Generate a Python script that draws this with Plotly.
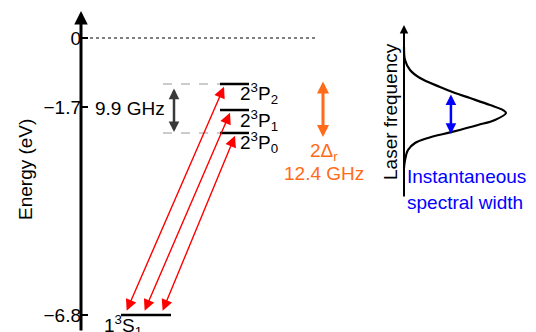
import plotly.graph_objects as go

# ---------------- data ----------------
# energy axis ticks (eV)
tick_vals = [0, -1.7, -6.8]
tick_text = ["0", "\u22121.7", "\u22126.8"]

# excited levels (schematic energies, eV) and ground state
level_names = ["2<sup>3</sup>P<sub>2</sub>", "2<sup>3</sup>P<sub>1</sub>", "2<sup>3</sup>P<sub>0</sub>"]
level_E = [-1.129, -1.768, -2.332]
ground_name = "1<sup>3</sup>S<sub>1</sub>"
ground_E = -6.8

# splitting annotations
fine_label = "9.9 GHz"
recoil_labels = ["2\u0394<sub>r</sub>", "12.4 GHz"]
recoil_span = [-1.031, -2.430]

# laser spectral profile (relative frequency, relative intensity)
laser_f = [3.63, 2.91, 2.36, 1.92, 1.43, 1.10, 0.82, 0.44, 0.16, 0.0,
           -0.38, -0.66, -1.04, -1.37, -1.65, -2.03, -2.58, -3.02]
laser_I = [0.0, 0.01, 0.059, 0.157, 0.353, 0.500, 0.647, 0.843, 0.971, 1.0,
           0.892, 0.725, 0.471, 0.235, 0.108, 0.039, 0.01, 0.0]
width_span = [1.10, -1.15]
width_level = 0.46
laser_axis_label = "Laser frequency"
width_labels = ["Instantaneous", "spectral width"]

# ---------------- layout constants ----------------
W, H = 536, 332
FONT = "Liberation Sans, Arial, Helvetica, sans-serif"
FS = 19
BLACK = "#000000"
RED = "#FF0000"
ORANGE = "#FF6B18"
BLUE = "#0000FF"
GRAY = "#3A3A3A"
DASH_GRAY = "#9A9A9A"

PX_PER_EV = 40.735
E_TOP = 38 / PX_PER_EV
E_BOT = -(H - 38) / PX_PER_EV
AXIS_X = 81


def E_at(py):
    return -(py - 38) / PX_PER_EV


fig = go.Figure()

# dotted zero line
fig.add_trace(go.Scatter(x=[84, 315], y=[tick_vals[0], tick_vals[0]], mode="lines",
                         line=dict(color=BLACK, width=1.2, dash="dot"),
                         hoverinfo="skip", showlegend=False))

shapes = []
annotations = []

# energy levels
for E in level_E:
    shapes.append(dict(type="line", xref="x", yref="y", x0=220, x1=249, y0=E, y1=E,
                       line=dict(color=BLACK, width=2.5)))
shapes.append(dict(type="line", xref="x", yref="y", x0=121, x1=171, y0=ground_E, y1=ground_E,
                   line=dict(color=BLACK, width=2.5)))
# dashed guides for the fine-structure splitting
for E in (level_E[0], level_E[-1]):
    shapes.append(dict(type="line", xref="x", yref="y", x0=163, x1=220, y0=E, y1=E,
                       line=dict(color=DASH_GRAY, width=1.2, dash="dash")))


def arrow(x0, y0, x1, y1, color, width, size, double=False, ref=("x", "y")):
    d = dict(x=x1, y=y1, ax=x0, ay=y0, xref=ref[0], yref=ref[1], axref=ref[0], ayref=ref[1],
             text="", showarrow=True, arrowhead=2, arrowsize=size, arrowwidth=width,
             arrowcolor=color)
    if double:
        d.update(arrowside="end+start", startarrowhead=2, startarrowsize=size)
    annotations.append(d)


# energy axis with arrow
arrow(AXIS_X, E_BOT, AXIS_X, E_at(11), BLACK, 3, 0.9)

# fine structure splitting arrow (gray)
arrow(174, E_at(87), 174, E_at(132), GRAY, 2.5, 0.85, double=True)

# recoil splitting arrow (orange)
arrow(323, recoil_span[0], 323, recoil_span[1], ORANGE, 3, 0.8, double=True)

# transitions (red)
bottom_x = [126, 144, 162]
top_x = [224, 230, 235]
for bx, tx, E in zip(bottom_x, top_x, level_E):
    arrow(bx, ground_E + 0.07, tx, E - 0.07, RED, 1.4, 1.6, double=True)

# texts
annotations.append(dict(x=167, y=E_at(108), xref="x", yref="y", text=fine_label, showarrow=False,
                        xanchor="right", yanchor="middle", font=dict(size=FS, color=BLACK, family=FONT)))
annotations.append(dict(x=324, y=E_at(152), xref="x", yref="y", text=recoil_labels[0], showarrow=False,
                        xanchor="center", yanchor="middle", font=dict(size=FS, color=ORANGE, family=FONT)))
annotations.append(dict(x=324, y=E_at(173), xref="x", yref="y", text=recoil_labels[1], showarrow=False,
                        xanchor="center", yanchor="middle", font=dict(size=FS, color=ORANGE, family=FONT)))
for name, E in zip(level_names, level_E):
    annotations.append(dict(x=238, y=E - 10 / PX_PER_EV, xref="x", yref="y", text=name, showarrow=False,
                            xanchor="left", yanchor="middle", font=dict(size=FS, color=BLACK, family=FONT)))
annotations.append(dict(x=102, y=E_at(325), xref="x", yref="y", text=ground_name, showarrow=False,
                        xanchor="left", yanchor="middle", font=dict(size=FS, color=BLACK, family=FONT)))
annotations.append(dict(x=25, y=E_at(170), xref="x", yref="y", text="Energy (eV)", showarrow=False,
                        textangle=-90, xanchor="center", yanchor="middle",
                        font=dict(size=FS, color=BLACK, family=FONT)))

# ---------------- laser panel (x2 / y2) ----------------
LX0, LAMP = 404, 102
LY0, LPX = 113, 18.2
x2_range = [-LX0 / LAMP, (W - LX0) / LAMP]
y2_range = [(LY0 - H) / LPX, LY0 / LPX]

fig.add_trace(go.Scatter(x=laser_I, y=laser_f, mode="lines", line=dict(color=BLACK, width=2.2, shape="spline"),
                         xaxis="x2", yaxis="y2", hoverinfo="skip", showlegend=False))

arrow(0, (LY0 - 198) / LPX, 0, (LY0 - 25) / LPX, BLACK, 2, 0.85, ref=("x2", "y2"))
arrow(width_level, width_span[0], width_level, width_span[1], BLUE, 2.5, 0.85, double=True, ref=("x2", "y2"))

annotations.append(dict(x=(390 - LX0) / LAMP, y=(LY0 - 112) / LPX, xref="x2", yref="y2",
                        text=laser_axis_label, showarrow=False, textangle=-90,
                        xanchor="center", yanchor="middle", font=dict(size=FS, color=BLACK, family=FONT)))
annotations.append(dict(x=(405 - LX0) / LAMP, y=(LY0 - 176) / LPX, xref="x2", yref="y2",
                        text=width_labels[0], showarrow=False, xanchor="left", yanchor="middle",
                        font=dict(size=FS, color=BLUE, family=FONT)))
annotations.append(dict(x=(405 - LX0) / LAMP, y=(LY0 - 202) / LPX, xref="x2", yref="y2",
                        text=width_labels[1], showarrow=False, xanchor="left", yanchor="middle",
                        font=dict(size=FS, color=BLUE, family=FONT)))

fig.update_layout(
    width=W, height=H,
    margin=dict(l=0, r=0, t=0, b=0, pad=0),
    paper_bgcolor="white", plot_bgcolor="white",
    showlegend=False,
    xaxis=dict(range=[0, W], visible=False, fixedrange=True),
    yaxis=dict(range=[E_BOT, E_TOP], anchor="free", position=AXIS_X / W, showline=False,
               showgrid=False, zeroline=False, ticks="inside", ticklen=6, tickwidth=2,
               tickcolor=BLACK, tickvals=tick_vals, ticktext=tick_text, automargin=False,
               tickfont=dict(size=FS, color=BLACK, family=FONT), fixedrange=True),
    xaxis2=dict(range=x2_range, overlaying="x", anchor="y2", visible=False, fixedrange=True),
    yaxis2=dict(range=y2_range, overlaying="y", anchor="x2", visible=False, fixedrange=True),
    shapes=shapes,
    annotations=annotations,
)

fig.write_html("out.html")
